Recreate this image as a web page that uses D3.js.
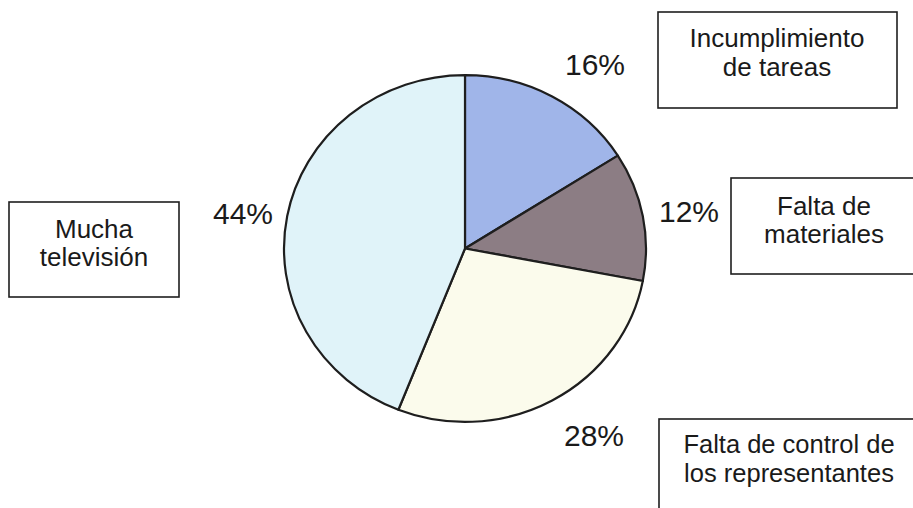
<!DOCTYPE html>
<html><head><meta charset="utf-8">
<script src="https://cdn.jsdelivr.net/npm/d3@7"></script>
<style>
html,body{margin:0;padding:0;background:#fff;}
svg{display:block;font-family:"Liberation Sans",Arial,sans-serif;}
</style></head>
<body>
<svg id="chart" width="913" height="508"></svg>
<script>
const categories = ["Incumplimiento de tareas", "Falta de materiales", "Falta de control de los representantes", "Mucha televisión"];
const labelLines = [["Incumplimiento","de tareas"],["Falta de","materiales"],["Falta de control de","los representantes"],["Mucha","televisión"]];
const values = [16, 12, 28, 44];
const pctLabels = ["16%", "12%", "28%", "44%"];
const colors = ["#a0b5e9", "#8c7d84", "#fbfbec", "#e0f3f9"];

const svg = d3.select("#chart");
const cx = 465, cy = 248.5, r = 181, sy = 0.958;

const pie = d3.pie().sort(null).value(d => d)(values);
const arc = d3.arc().innerRadius(0).outerRadius(r);

const g = svg.append("g").attr("transform", `translate(${cx},${cy}) scale(1,${sy})`);
g.selectAll("path").data(pie).join("path")
  .attr("d", arc)
  .attr("fill", (d,i) => colors[i])
  .attr("stroke", "#1e1e1e")
  .attr("stroke-width", 2.2)
  .attr("vector-effect", "non-scaling-stroke")
  .attr("stroke-linejoin", "round");

// percentage labels (order matches values)
const pctPos = [[595, 75], [689, 222], [594, 446], [243, 224]];
svg.selectAll("text.pct").data(pctLabels).join("text")
  .attr("class","pct")
  .attr("x", (d,i) => pctPos[i][0])
  .attr("y", (d,i) => pctPos[i][1])
  .attr("text-anchor","middle")
  .attr("font-size", 30)
  .attr("fill", "#1a1a1a")
  .text(d => d);

// boxes
const boxes = [
  {x:658, y:12, w:239, h:96, tx:777, ty:[47,76], fs:26},
  {x:731, y:178, w:190, h:96, tx:824, ty:[215,243], fs:26},
  {x:659, y:419, w:260, h:100, tx:789, ty:[453,482], fs:25.5},
  {x:9, y:202, w:170, h:95, tx:94, ty:[238,266], fs:26}
];
boxes.forEach((b,i) => {
  svg.append("rect").attr("x", b.x).attr("y", b.y).attr("width", b.w).attr("height", b.h)
    .attr("fill","#fff").attr("stroke","#1e1e1e").attr("stroke-width",1.6);
  labelLines[i].forEach((t,j) => {
    svg.append("text").attr("x", b.tx).attr("y", b.ty[j])
      .attr("text-anchor","middle").attr("font-size", b.fs).attr("fill","#1a1a1a").text(t);
  });
});
</script>
</body></html>
